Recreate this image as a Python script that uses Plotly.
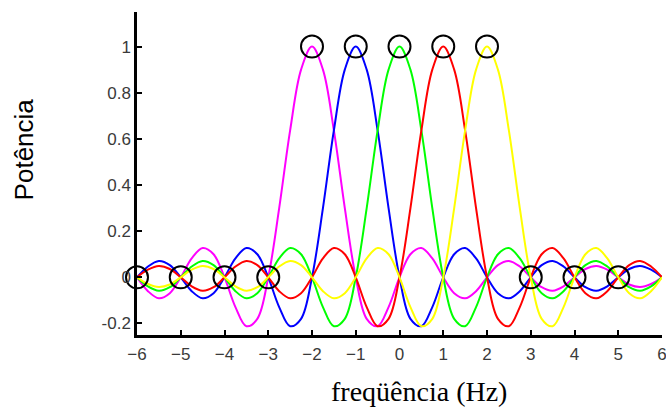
import plotly.graph_objects as go

# Subcarrier centres (Hz) and colours
carrier_centers = [-2, -1, 0, 1, 2]
carrier_colors = ["#ff00ff", "#0000ff", "#00ff00", "#ff0000", "#ffff00"]

# Pulse shape: amplitude vs. offset from carrier centre (Hz)
pulse_offsets = [0, 0.25, 0.5, 0.75, 1, 1.25, 1.5, 1.75, 2, 2.25, 2.5, 2.75, 3,
                 3.25, 3.5, 3.75, 4, 4.25, 4.5, 4.75, 5, 5.25, 5.5, 5.75, 6,
                 6.25, 6.5, 6.75, 7, 7.25, 7.5, 7.75, 8]
pulse_values = [1.0, 0.90, 0.637, 0.30, 0.0, -0.18, -0.212, -0.129, 0.0, 0.10, 0.127, 0.082, 0.0,
                -0.069, -0.091, -0.06, 0.0, 0.053, 0.071, 0.047, 0.0, -0.043, -0.058, -0.039, 0.0,
                0.036, 0.049, 0.033, 0.0, -0.031, -0.042, -0.029, 0.0]

# Marked points (circles)
peak_x = [-2, -1, 0, 1, 2]
peak_y = [1, 1, 1, 1, 1]
zero_x = [-6, -5, -4, -3, 3, 4, 5]
zero_y = [0, 0, 0, 0, 0, 0, 0]

x_ticks = [-6, -5, -4, -3, -2, -1, 0, 1, 2, 3, 4, 5, 6]
y_ticks = [-0.2, 0, 0.2, 0.4, 0.6, 0.8, 1]
y_ticklabels = ["-0.2", "0", "0.2", "0.4", "0.6", "0.8", "1"]

fig = go.Figure()

for c, col in zip(carrier_centers, carrier_colors):
    xs, ys = [], []
    pts = [(-o, v) for o, v in zip(pulse_offsets[::-1], pulse_values[::-1])] + \
          [(o, v) for o, v in zip(pulse_offsets[1:], pulse_values[1:])]
    for o, v in pts:
        x = c + o
        if -6 <= x <= 6:
            xs.append(x)
            ys.append(v)
    fig.add_trace(go.Scatter(x=xs, y=ys, mode="lines",
                             line=dict(color=col, width=2, shape="spline", smoothing=1.0),
                             showlegend=False, hoverinfo="skip"))

fig.add_trace(go.Scatter(x=peak_x + zero_x, y=peak_y + zero_y, mode="markers",
                         marker=dict(symbol="circle-open", size=22, color="black",
                                     line=dict(width=2, color="black")),
                         cliponaxis=False, showlegend=False, hoverinfo="skip"))

tick_font = dict(family="Liberation Sans, Arial, sans-serif", size=17, color="#3a3a3a")

fig.update_layout(
    width=666, height=407,
    margin=dict(l=137, r=4, t=12, b=72),
    plot_bgcolor="white", paper_bgcolor="white",
    xaxis=dict(range=[-6, 6], tickvals=x_ticks, ticks="inside", ticklen=5, tickwidth=2,
               tickcolor="black", showline=True, linecolor="black", linewidth=2.5,
               showgrid=False, zeroline=False, tickfont=tick_font, mirror=False,
               automargin=False, ticklabelstandoff=2, ticklabeloverflow="allow"),
    yaxis=dict(range=[-0.25, 1.15], tickvals=y_ticks, ticktext=y_ticklabels,
               ticks="inside", ticklen=5, tickwidth=2, tickcolor="black",
               showline=True, linecolor="black", linewidth=2.5,
               showgrid=False, zeroline=False, tickfont=tick_font, mirror=False,
               automargin=False),
    annotations=[
        dict(text="freqüência (Hz)", xref="paper", yref="paper", x=0.537, y=-0.176,
             showarrow=False, xanchor="center", yanchor="middle",
             font=dict(family="Liberation Serif, Times New Roman, serif", size=28, color="black")),
        dict(text="Potência", xref="paper", yref="paper", x=-0.215, y=0.575,
             showarrow=False, xanchor="center", yanchor="middle", textangle=-90,
             font=dict(family="Liberation Sans, Arial, sans-serif", size=26, color="black")),
    ],
)

fig.write_html("out.html", config={"displayModeBar": False},
               post_script="document.body.style.margin='0';document.body.style.overflow='hidden';")
